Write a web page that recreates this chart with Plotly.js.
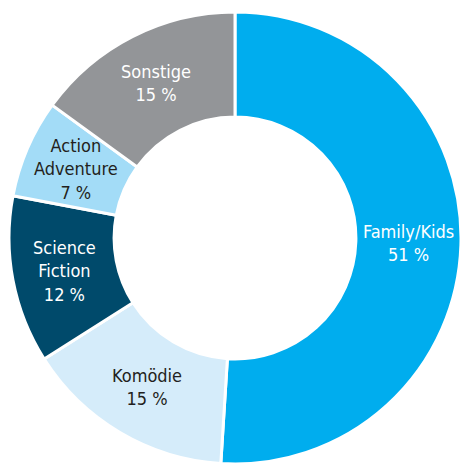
<!DOCTYPE html>
<html>
<head>
<meta charset="utf-8">
<script src="https://cdn.plot.ly/plotly-3.0.1.min.js"></script>
<style>html,body{margin:0;padding:0;background:#fff;}#chart{width:464px;height:465px;}</style>
</head>
<body>
<div id="chart"></div>
<script>
const labels = ["Family/Kids", "Komödie", "Science<br>Fiction", "Action<br>Adventure", "Sonstige"];
const values = [51, 15, 12, 7, 15];
const colors = ["#00adee", "#d5ecfa", "#004a6b", "#a3dcf7", "#939598"];
const textColors = ["#ffffff", "#231f20", "#ffffff", "#231f20", "#ffffff"];

const W = 464, H = 465;
const margin = {l: 9, r: 3, t: 12, b: 1};
const plotW = W - margin.l - margin.r, plotH = H - margin.t - margin.b;
const hole = 0.535;
const labelR = (1 + hole) / 2;

const total = values.reduce((a, b) => a + b, 0);
let cum = 0;
const annotations = values.map((v, i) => {
  const mid = (cum + v / 2) / total;
  cum += v;
  const ang = mid * 2 * Math.PI;
  const x = 0.5 + labelR * 0.5 * Math.sin(ang);
  const y = 0.5 + labelR * 0.5 * Math.cos(ang);
  return {
    x: x, y: y, xref: "paper", yref: "paper",
    text: labels[i] + "<br>" + v + " %",
    showarrow: false,
    font: {family: "Liberation Sans Narrow, 'DejaVu Sans Condensed', Roboto, sans-serif", size: 18, color: textColors[i]},
    align: "center", xanchor: "center", yanchor: "middle"
  };
});

const data = [{
  type: "pie",
  labels: labels,
  values: values,
  hole: hole,
  sort: false,
  direction: "clockwise",
  rotation: 0,
  textinfo: "none",
  hoverinfo: "label+percent",
  marker: {colors: colors, line: {color: "#ffffff", width: 3}},
  domain: {x: [0, 1], y: [0, 1]}
}];

const layout = {
  width: W, height: H,
  margin: margin,
  showlegend: false,
  paper_bgcolor: "#ffffff",
  annotations: annotations
};

Plotly.newPlot("chart", data, layout, {displayModeBar: false, staticPlot: true});
</script>
</body>
</html>
